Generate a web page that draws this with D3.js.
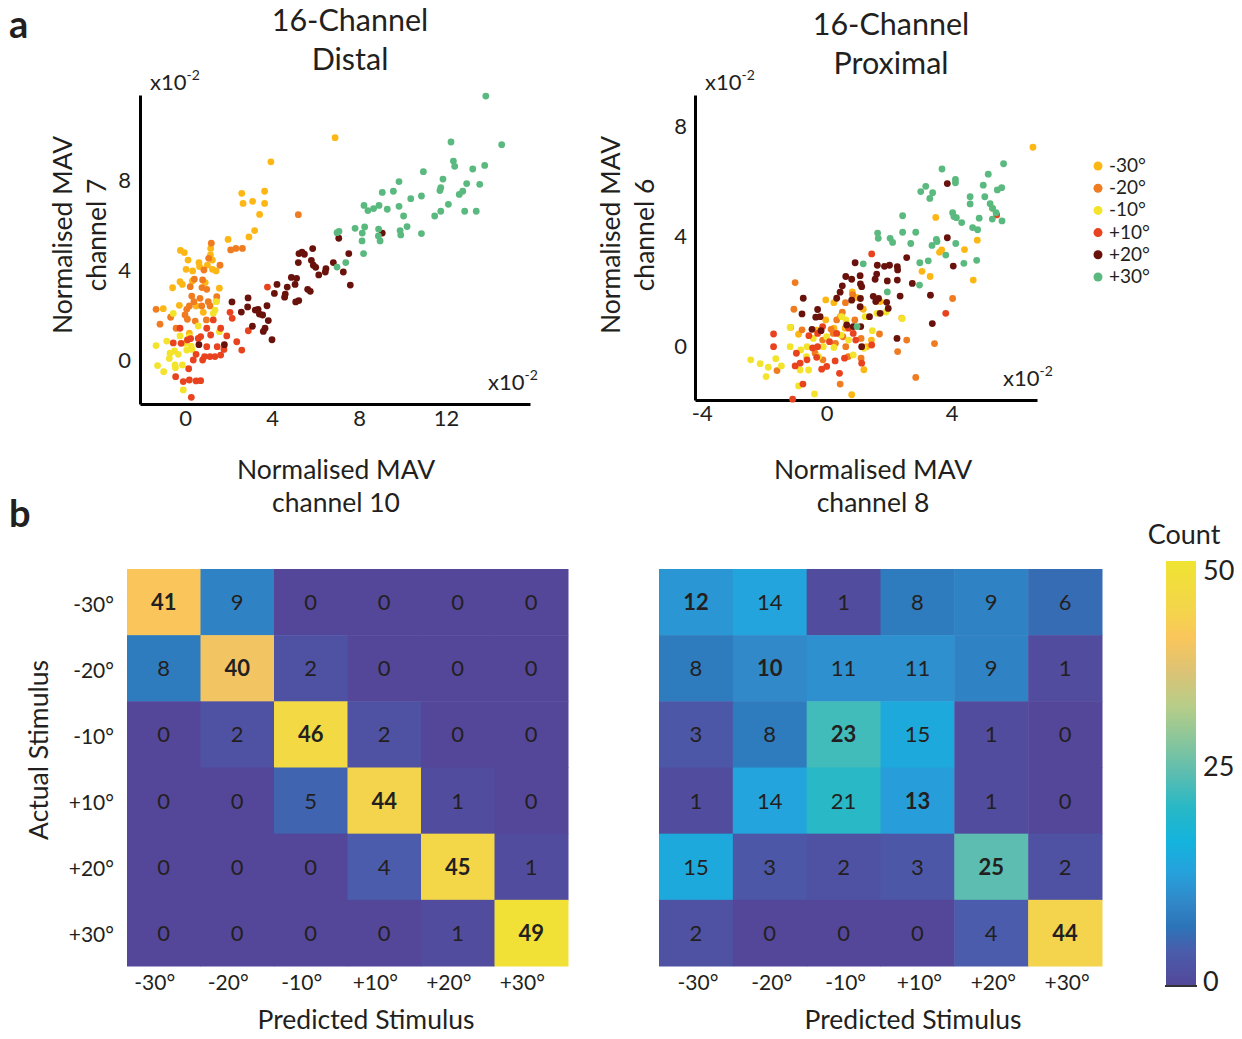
<!DOCTYPE html>
<html lang="en">
<head>
<meta charset="utf-8">
<title>Stimulus classification</title>
<style>
body {
  margin: 0;
  background: #fff;
}
svg text {
  font-family: Lato, "Open Sans", sans-serif;
  fill: #231f20;
}
.panelLetter {
  font-size: 38px;
  font-weight: bold;
}
.title {
  font-size: 30.5px;
  text-anchor: middle;
}
.axisTitle {
  font-size: 26.5px;
  text-anchor: middle;
}
.scatterAxis path {
  stroke: #000;
  stroke-width: 3;
}
.scatterAxis text {
  font-size: 22px;
  font-family: Lato, sans-serif;
  fill: #231f20;
}
.exponent {
  font-size: 22px;
}
.legend text {
  font-size: 19px;
}
.matrixAxis path {
  display: none;
}
.matrixAxis text {
  font-size: 21px;
  font-family: Lato, sans-serif;
  fill: #231f20;
}
.cellText {
  font-size: 22px;
  text-anchor: middle;
}
</style>
</head>
<body>
<div id="chart"></div>
<script src="https://d3js.org/d3.v7.min.js"></script>
<script>
// stimulus classes (legend order)
var stimulusLabels = ['-30°', '-20°', '-10°', '+10°', '+20°', '+30°'];

// panel a, distal: normalised MAV channel 10 (x) vs channel 7 (y), x10^-2
var distalM30 = [[6.90,9.88],[3.95,8.81],[2.61,7.41],[2.67,6.96],[3.11,7.05],[3.66,7.50],[3.66,6.96],[3.43,6.47],[3.20,5.75],[2.94,5.47],[1.98,5.36],[-0.21,4.87],[-0.03,4.77],[0.14,4.44],[0.64,4.33],[0.67,4.15],[0.05,4.03],[0.35,3.96],[1.18,4.96],[1.17,4.67],[1.26,4.44],[-0.57,3.21],[-0.23,3.48],[-0.12,3.36],[0.34,3.51],[0.93,3.44],[1.03,4.22],[1.26,4.03],[1.43,3.96],[1.44,2.61],[1.58,3.19],[-0.26,2.43],[-1.00,2.28],[0.51,2.40],[0.84,2.12],[0.20,1.19]];
var distalM20 = [[5.21,6.46],[2.10,4.89],[2.34,4.96],[2.64,4.96],[1.21,5.19],[1.09,4.52],[1.61,4.21],[0.87,4.00],[0.81,3.56],[0.43,3.59],[0.24,3.26],[0.78,3.22],[1.00,3.14],[0.31,2.84],[0.69,2.74],[0.41,2.59],[0.20,2.40],[0.77,2.40],[1.15,2.40],[0.08,2.25],[0.00,2.00],[0.11,1.81],[-1.33,2.25],[-1.15,1.59],[-0.66,1.90],[-0.41,1.41],[0.47,1.73],[1.07,2.59],[0.98,1.78],[1.46,2.81]];
var distalM10 = [[-1.33,0.64],[-1.26,-0.25],[-0.98,-0.52],[-0.84,0.84],[-0.69,0.30],[-0.72,0.07],[-0.46,-0.22],[-0.44,-0.34],[-0.12,-0.22],[-0.08,-1.33],[-0.23,1.07],[0.00,0.74],[0.20,1.04],[0.32,0.47],[0.61,1.51],[1.38,2.22],[1.58,1.26],[1.43,2.59],[0.28,0.62],[-0.54,2.07],[1.30,2.07],[-0.31,0.25],[-0.48,0.40],[0.08,0.44]];
var distalP10 = [[0.29,-1.66],[-0.08,-0.96],[0.20,-0.89],[0.51,-0.93],[0.72,-0.92],[-0.43,-0.74],[0.17,-0.39],[-0.23,1.41],[0.11,0.89],[0.26,0.95],[0.61,0.96],[0.72,1.04],[1.00,1.41],[1.18,1.11],[0.81,0.00],[1.15,0.15],[1.38,0.15],[1.64,0.22],[1.79,0.47],[1.92,1.07],[2.38,0.81],[2.61,0.44],[2.91,1.30],[3.79,3.24],[2.07,2.12],[2.17,1.85],[1.64,1.41],[1.30,1.78],[0.51,0.25],[0.38,0.00],[1.00,0.59],[1.48,0.59],[-0.54,0.76],[-0.18,0.74],[0.90,0.15]];
var distalP20 = [[7.07,5.41],[9.07,5.64],[5.38,4.79],[5.24,4.73],[5.49,4.70],[5.87,4.95],[5.81,4.43],[5.90,4.21],[5.21,4.33],[6.01,4.12],[6.82,4.33],[7.53,4.73],[6.48,4.06],[6.45,3.91],[7.28,3.91],[6.15,3.78],[7.60,3.33],[4.89,3.67],[5.13,3.63],[5.06,3.36],[4.70,3.24],[4.23,3.36],[4.11,2.96],[4.61,2.93],[4.58,2.79],[5.64,3.14],[5.76,3.05],[5.09,2.58],[5.23,2.64],[3.77,2.41],[3.23,2.22],[3.36,2.25],[3.42,2.04],[3.57,2.00],[2.90,2.76],[2.88,2.36],[2.59,2.13],[2.16,2.58],[3.83,1.75],[3.68,1.41],[3.60,1.27],[3.10,1.50],[4.00,0.90],[1.81,0.68],[0.64,0.68]];
var distalP30 = [[13.83,11.73],[14.56,9.57],[12.23,9.69],[12.34,8.84],[12.40,8.61],[13.78,8.65],[13.23,8.49],[10.96,8.37],[11.86,8.04],[9.84,7.93],[12.95,7.84],[13.55,7.81],[11.76,7.66],[11.72,7.53],[12.77,7.50],[12.61,7.36],[9.07,7.45],[9.58,7.50],[10.38,7.17],[10.87,7.29],[8.23,6.87],[8.41,6.64],[8.67,6.73],[8.92,6.87],[9.30,6.70],[9.84,6.83],[10.05,6.40],[12.11,6.92],[11.76,6.61],[11.48,6.40],[12.86,6.61],[13.39,6.61],[7.08,5.72],[6.99,5.66],[7.82,5.85],[8.26,5.91],[8.15,5.64],[8.90,5.82],[8.89,5.51],[8.97,5.29],[8.14,5.29],[9.89,5.75],[9.92,5.56],[10.21,5.93],[10.87,5.62],[8.21,4.73],[7.39,4.33],[6.99,4.13]];

// panel a, proximal: normalised MAV channel 8 (x) vs channel 6 (y), x10^-2
var proximalM30 = [[6.60,7.25],[3.49,4.70],[4.82,3.87],[4.41,3.53],[3.61,3.43],[3.68,3.52],[3.05,2.74],[3.31,2.55],[4.69,2.42],[0.82,1.99],[-0.03,1.70],[0.23,1.60],[0.96,1.79],[1.17,1.36],[-0.03,0.97],[0.59,0.67],[1.28,0.00],[1.19,-0.84],[0.80,-1.75],[1.71,1.64],[2.40,1.04],[-1.15,0.70],[-0.90,0.45],[-0.32,0.60],[5.30,5.03],[1.43,0.24],[0.23,0.67],[0.43,1.09]];
var proximalM20 = [[-1.01,2.33],[-1.05,1.36],[-0.79,0.61],[-1.59,-0.87],[0.43,-1.36],[0.83,1.89],[0.60,1.60],[0.50,1.25],[0.32,0.97],[0.14,0.63],[0.21,0.48],[0.52,0.36],[0.61,0.00],[0.28,0.12],[-0.13,0.24],[-0.37,-0.24],[1.69,0.46],[2.27,-0.18],[2.85,-1.12],[3.45,0.11],[4.03,1.75],[2.56,0.24],[1.10,-0.42],[0.69,-0.36],[1.10,0.30],[-0.12,-0.48],[0.90,0.97]];
var proximalM10 = [[-2.43,-0.48],[-2.13,-0.62],[-1.87,-0.75],[-1.94,-1.09],[-1.63,-0.44],[-1.45,-0.70],[-1.17,0.70],[-1.17,0.00],[-0.83,-0.12],[-0.63,0.00],[-0.85,-0.85],[-0.58,-0.85],[-0.90,-1.43],[-0.39,-1.72],[-0.43,0.30],[-0.11,0.00],[-0.26,-0.36],[0.48,1.09],[0.46,0.42],[0.62,0.97],[1.23,1.09],[1.46,0.58],[1.61,1.21],[1.90,1.26],[2.42,1.02],[1.19,-0.06],[0.85,-0.30],[0.23,-0.03],[0.70,0.24],[0.00,0.36],[-0.65,-0.36]];
var proximalP10 = [[1.44,3.37],[-1.70,0.46],[-1.70,0.00],[-1.09,-1.91],[-0.76,-1.36],[-0.57,0.40],[-0.97,-0.24],[-1.01,-0.70],[-0.85,-0.60],[-0.63,-0.48],[-0.32,-0.39],[-0.16,-0.82],[-0.29,0.48],[-0.13,0.73],[0.27,-0.52],[0.57,-0.42],[0.41,-0.97],[0.70,0.67],[0.85,0.48],[0.93,0.24],[1.12,-0.60],[1.44,0.06],[3.81,1.21],[5.44,4.79],[-0.29,0.00],[0.09,0.18],[0.32,0.48],[0.00,-0.72],[-0.45,-0.05]];
var proximalP20 = [[3.86,5.93],[3.86,3.96],[0.91,3.05],[1.62,2.96],[1.85,2.92],[2.01,2.96],[2.26,2.91],[2.27,2.79],[2.56,3.24],[2.26,2.42],[2.74,2.30],[1.60,2.64],[1.55,2.45],[1.07,2.58],[0.61,2.55],[0.80,2.45],[0.50,2.21],[0.43,1.98],[0.32,1.76],[0.80,1.69],[1.08,1.75],[1.07,1.45],[1.49,1.83],[1.66,1.75],[1.57,1.64],[1.92,1.61],[1.97,1.39],[1.71,1.21],[1.37,1.09],[1.08,2.28],[1.12,2.18],[1.94,2.39],[2.35,1.84],[3.32,1.87],[4.05,2.93],[3.38,0.84],[2.25,0.30],[-0.75,1.76],[-0.79,1.19],[-0.29,1.35],[-0.35,1.07],[-0.21,1.09],[-0.47,0.63],[-0.18,0.58],[0.85,0.73],[1.12,0.00],[1.09,0.73],[0.64,0.79]];
var proximalP30 = [[5.66,6.65],[5.17,6.27],[3.69,6.46],[5.01,5.87],[5.06,5.45],[4.59,5.45],[4.59,5.19],[3.01,5.64],[3.17,5.83],[3.30,5.39],[3.39,5.60],[4.12,6.08],[4.12,5.96],[5.46,5.70],[5.60,5.78],[5.23,5.20],[5.31,5.03],[5.42,4.87],[5.30,4.64],[5.61,4.57],[4.03,4.87],[4.07,4.73],[4.15,4.69],[4.32,4.51],[4.88,4.67],[4.67,4.33],[4.83,4.25],[2.43,4.76],[2.43,4.16],[2.85,4.16],[2.03,3.94],[2.11,3.79],[1.63,4.13],[1.65,3.94],[2.69,3.75],[3.51,3.90],[3.53,3.82],[3.37,3.68],[4.13,3.75],[3.81,3.33],[3.25,3.12],[2.98,3.05],[2.97,2.24],[4.39,3.03],[4.80,3.14],[1.17,3.01],[1.94,1.99],[0.97,0.73]];

// panel b: confusion matrices, rows = actual, cols = predicted
var distalCounts = [
  [41, 9, 0, 0, 0, 0],
  [8, 40, 2, 0, 0, 0],
  [0, 2, 46, 2, 0, 0],
  [0, 0, 5, 44, 1, 0],
  [0, 0, 0, 4, 45, 1],
  [0, 0, 0, 0, 1, 49]
];
var proximalCounts = [
  [12, 14, 1, 8, 9, 6],
  [8, 10, 11, 11, 9, 1],
  [3, 8, 23, 15, 1, 0],
  [1, 14, 21, 13, 1, 0],
  [15, 3, 2, 3, 25, 2],
  [2, 0, 0, 0, 4, 44]
];
var countTicks = [0, 25, 50];

var classColors = ['#fdb714', '#f07c22', '#f4e32b', '#e8431e', '#69120b', '#5ab97f'];
// colour map
var cmapValues = [0, 4, 7, 10, 13.5, 17, 21, 25, 29, 33, 37, 41, 44, 50];
var cmapColors = ['#54479a', '#4a5cab', '#2c74b8', '#3189c9', '#25a2dc', '#14b3dd', '#28b8c6',
  '#5cbdb0', '#8ac69b', '#b8cd88', '#dcc375', '#fac65b', '#f4d44c', '#f0e432'];
var cmap = d3.scaleLinear().domain(cmapValues).range(cmapColors).interpolate(d3.interpolateRgb);

var svg = d3.select('#chart')
  .append('svg')
  .attr('width', 1242)
  .attr('height', 1039);

// panel letters
svg.append('text').attr('class', 'panelLetter').attr('x', 9).attr('y', 38).text('a');
svg.append('text').attr('class', 'panelLetter').attr('x', 9).attr('y', 527).text('b');

function exponent(x, y) {
  var t = svg.append('text').attr('class', 'exponent').attr('x', x).attr('y', y).text('x10');
  t.append('tspan').attr('dy', -10).style('font-size', '14px').text('-2');
}

function drawScatter(p) {
  var x = d3.scaleLinear().domain(p.xDomain).range([p.left, p.right]);
  var y = d3.scaleLinear().domain(p.yDomain).range([p.bottom, p.top]);
  var plain = function(d) { return String(d); };

  svg.append('text').attr('class', 'title').attr('x', p.titleX).attr('y', p.titleY).text('16-Channel');
  svg.append('text').attr('class', 'title').attr('x', p.titleX).attr('y', p.titleY + 39).text(p.title);

  svg.append('g')
    .attr('class', 'scatterAxis')
    .attr('transform', 'translate(0,' + p.bottom + ')')
    .call(d3.axisBottom(x).tickValues(p.xTicks).tickFormat(plain).tickSize(0).tickPadding(p.xPad).tickSizeOuter(0));
  svg.append('g')
    .attr('class', 'scatterAxis')
    .attr('transform', 'translate(' + p.left + ',0)')
    .call(d3.axisLeft(y).tickValues(p.yTicks).tickFormat(plain).tickSize(0).tickPadding(p.yPad).tickSizeOuter(0));

  exponent(p.left + 10, p.top - 5);
  exponent(p.expX, p.bottom - 14);

  // y label
  svg.append('text').attr('class', 'axisTitle')
    .attr('transform', 'translate(' + p.yLabelX + ',' + p.labelMidY + ') rotate(-90)')
    .text('Normalised MAV');
  svg.append('text').attr('class', 'axisTitle')
    .attr('transform', 'translate(' + (p.yLabelX + 34) + ',' + p.labelMidY + ') rotate(-90)')
    .text(p.yChannel);
  // x label
  svg.append('text').attr('class', 'axisTitle').attr('x', p.xLabelX).attr('y', 479).text('Normalised MAV');
  svg.append('text').attr('class', 'axisTitle').attr('x', p.xLabelX).attr('y', 512).text(p.xChannel);

  p.series.forEach(function(pts, i) {
    svg.append('g').selectAll('circle')
      .data(pts)
      .enter()
      .append('circle')
      .attr('cx', function(d) { return x(d[0]); })
      .attr('cy', function(d) { return y(d[1]); })
      .attr('r', 3.4)
      .attr('fill', classColors[i]);
  });
}

drawScatter({
  series: [distalM30, distalM20, distalM10, distalP10, distalP20, distalP30],
  xDomain: [-2.069, 15.862], yDomain: [-1.956, 11.778],
  left: 140, right: 530, top: 95, bottom: 404,
  xTicks: [0, 4, 8, 12], yTicks: [0, 4, 8], xPad: 6, yPad: 9,
  titleX: 350, titleY: 31, title: 'Distal',
  expX: 488, yLabelX: 72, labelMidY: 235, xLabelX: 336,
  yChannel: 'channel 7', xChannel: 'channel 10'
});
drawScatter({
  series: [proximalM30, proximalM20, proximalM10, proximalP10, proximalP20, proximalP30],
  xDomain: [-4.214, 6.73], yDomain: [-1.94, 9.15],
  left: 695, right: 1037, top: 95, bottom: 400,
  xTicks: [-4, 0, 4], yTicks: [0, 4, 8], xPad: 5, yPad: 8,
  titleX: 891, titleY: 35, title: 'Proximal',
  expX: 1003, yLabelX: 620, labelMidY: 235, xLabelX: 873,
  yChannel: 'channel 6', xChannel: 'channel 8'
});

// legend
var legend = svg.append('g').attr('class', 'legend');
stimulusLabels.forEach(function(lab, i) {
  var ly = 166 + i * 22.2;
  legend.append('circle').attr('cx', 1098).attr('cy', ly).attr('r', 4.5).attr('fill', classColors[i]);
  legend.append('text').attr('x', 1109).attr('y', ly + 6).text(lab);
});

function drawMatrix(counts, x0, x1, showY, labelShift, titleX) {
  var x = d3.scaleBand().domain(stimulusLabels).range([x0, x1]);
  var y = d3.scaleBand().domain(stimulusLabels).range([569, 966]);
  var g = svg.append('g');
  counts.forEach(function(row, r) {
    g.selectAll(null)
      .data(row)
      .enter()
      .append('rect')
      .attr('x', function(d, c) { return x(stimulusLabels[c]); })
      .attr('y', y(stimulusLabels[r]))
      .attr('width', x.bandwidth() + 0.5)
      .attr('height', y.bandwidth() + 0.5)
      .attr('fill', function(d) { return cmap(d); });
    g.selectAll(null)
      .data(row)
      .enter()
      .append('text')
      .attr('class', 'cellText')
      .attr('x', function(d, c) { return x(stimulusLabels[c]) + x.bandwidth() / 2; })
      .attr('y', y(stimulusLabels[r]) + y.bandwidth() / 2 + 8)
      .style('font-weight', function(d, c) { return c === r ? 'bold' : 'normal'; })
      .text(function(d) { return d; });
  });
  svg.append('g')
    .attr('class', 'matrixAxis')
    .attr('transform', 'translate(0,966)')
    .call(d3.axisBottom(x).tickSize(0).tickPadding(9))
    .selectAll('text')
    .attr('dx', labelShift);
  if (showY) {
    svg.append('g')
      .attr('class', 'matrixAxis')
      .attr('transform', 'translate(' + x0 + ',0)')
      .call(d3.axisLeft(y).tickSize(0).tickPadding(13))
      .selectAll('text')
      .attr('dy', '0.45em');
  }
  svg.append('text').attr('class', 'axisTitle')
    .attr('x', titleX).attr('y', 1029).text('Predicted Stimulus');
}

drawMatrix(distalCounts, 127, 568, true, -9, 366);
drawMatrix(proximalCounts, 659, 1102, false, 2, 913);

svg.append('text').attr('class', 'axisTitle')
  .attr('transform', 'translate(48,750) rotate(-90)')
  .text('Actual Stimulus');

// colour bar
var cbScale = d3.scaleLinear().domain([0, 50]).range([986, 561]);
var grad = svg.append('defs').append('linearGradient')
  .attr('id', 'cbar').attr('x1', 0).attr('y1', 1).attr('x2', 0).attr('y2', 0);
cmapValues.forEach(function(v, i) {
  grad.append('stop').attr('offset', v / 50).attr('stop-color', cmapColors[i]);
});
svg.append('rect')
  .attr('x', 1166).attr('y', cbScale(50))
  .attr('width', 30).attr('height', cbScale(0) - cbScale(50))
  .attr('fill', 'url(#cbar)');
svg.append('line')
  .attr('x1', 1165).attr('x2', 1197).attr('y1', cbScale(0)).attr('y2', cbScale(0))
  .attr('stroke', '#333').attr('stroke-width', 2);
svg.append('g').selectAll('text')
  .data(countTicks)
  .enter()
  .append('text')
  .attr('x', 1203)
  .attr('y', function(d) { return d === 50 ? cbScale(d) + 19 : d === 0 ? cbScale(d) + 5 : cbScale(d) + 2; })
  .style('font-size', '27px')
  .text(function(d) { return d; });
svg.append('text')
  .attr('x', 1184).attr('y', 544)
  .style('font-size', '27px')
  .attr('text-anchor', 'middle')
  .text('Count');
</script>
</body>
</html>
